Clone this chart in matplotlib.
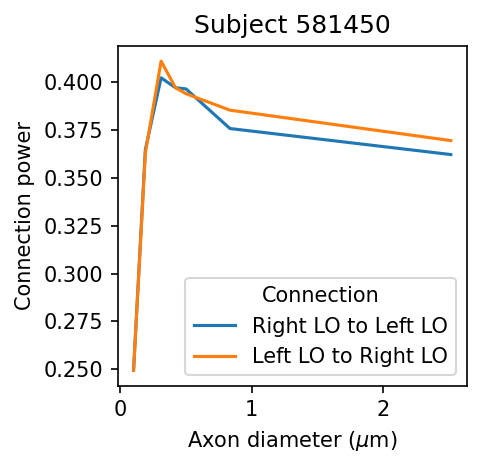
import matplotlib
matplotlib.use("Agg")
import matplotlib.pyplot as plt

diameters = [0.10, 0.19, 0.31, 0.42, 0.50, 0.835, 2.52]
right_to_left = [0.2495, 0.3648, 0.4023, 0.3971, 0.3965, 0.3758, 0.3622]
left_to_right = [0.2495, 0.3630, 0.4110, 0.3971, 0.3940, 0.3854, 0.3695]
series_labels = ["Right LO to Left LO", "Left LO to Right LO"]
colors = ["#1f77b4", "#ff7f0e"]

fig = plt.figure(figsize=(484/150, 468/150), dpi=150)
ax = fig.add_axes([117.7/484, 1-385.7/468, (466.7-117.7)/484, (385.7-45.7)/468])
ax.plot(diameters, right_to_left, color=colors[0], label=series_labels[0], lw=1.5)
ax.plot(diameters, left_to_right, color=colors[1], label=series_labels[1], lw=1.5)
ax.set_yticks([0.250, 0.275, 0.300, 0.325, 0.350, 0.375, 0.400])
ax.set_yticklabels(["0.250", "0.275", "0.300", "0.325", "0.350", "0.375", "0.400"])
ax.set_xticks([0, 1, 2])
ax.set_xlabel(r"Axon diameter ($\mu$m)")
ax.set_ylabel("Connection power")
ax.set_title("Subject 581450")
ax.legend(title="Connection", loc="lower right")
fig.savefig("out.png", dpi=150)
